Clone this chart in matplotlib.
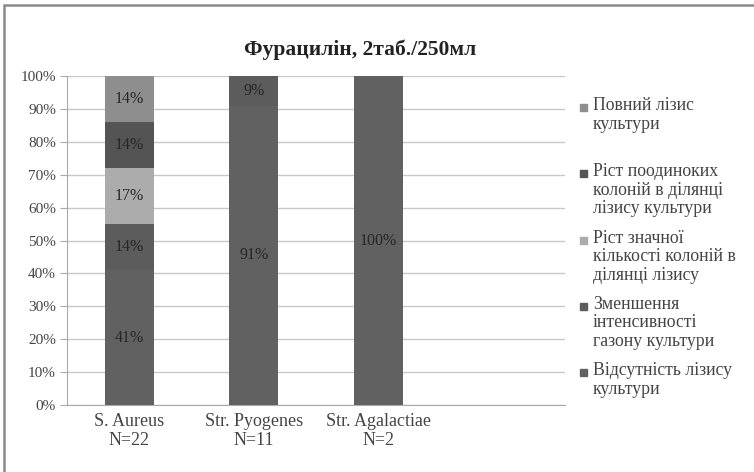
import numpy as np
import matplotlib
matplotlib.use("Agg")
import matplotlib.pyplot as plt
from matplotlib.patches import Rectangle

plt.rcParams['font.family'] = ['Liberation Serif', 'DejaVu Serif']

# categories and stacked series (bottom -> top), values in %
categories = ["S. Aureus\nN=22", "Str. Pyogenes\nN=11", "Str. Agalactiae\nN=2"]
series_names = [
    "Відсутність лізису\nкультури",
    "Зменшення\nінтенсивності\nгазону культури",
    "Ріст значної\nкількості колоній в\nділянці лізису",
    "Ріст поодиноких\nколоній в ділянці\nлізису культури",
    "Повний лізис\nкультури",
]
values = [
    [41, 91, 100],   # Відсутність лізису
    [14, 9, 0],      # Зменшення інтенсивності
    [17, 0, 0],      # Ріст значної кількості
    [14, 0, 0],      # Ріст поодиноких колоній
    [14, 0, 0],      # Повний лізис
]
colors = ["#616161", "#5c5c5c", "#acacac", "#545454", "#8e8e8e"]

W, H = 754, 472
fig = plt.figure(figsize=(W / 100, H / 100), dpi=100)
ax = fig.add_axes([67 / W, 1 - 405 / H, 498 / W, 329 / H])

x = np.arange(len(categories))
bottom = np.zeros(len(categories))
for name, vals, c in zip(series_names, values, colors):
    vals = np.array(vals, dtype=float)
    ax.bar(x, vals, width=0.39, bottom=bottom, color=c, label=name, zorder=3)
    for xi, v, bt in zip(x, vals, bottom):
        if v > 0:
            ax.text(xi, bt + v / 2, f"{int(v)}%", ha="center", va="center",
                    fontsize=11.5, color="#262626", zorder=4)
    bottom += vals

ax.set_xlim(-0.5, 3.5)
ax.set_ylim(0, 100)
ax.set_yticks(np.arange(0, 101, 10))
ax.set_yticklabels([f"{t}%" for t in range(0, 101, 10)], fontsize=11, color="#444444")
ax.set_xticks(x)
ax.set_xticklabels(categories, fontsize=13, color="#444444", linespacing=1.1)
ax.tick_params(axis="x", length=0, pad=6)
ax.tick_params(axis="y", length=5, color="#aaaaaa", pad=3)
ax.grid(axis="y", color="#c8c8c8", linewidth=1.0, zorder=0)
for s in ["top", "right"]:
    ax.spines[s].set_visible(False)
ax.spines["left"].set_color("#aaaaaa")
ax.spines["bottom"].set_color("#aaaaaa")

fig.text(360 / W, 1 - 50 / H, "Фурацилін, 2таб./250мл", ha="center", va="center",
         fontsize=15.5, fontweight="bold", color="#222222")

# legend, Excel style: top series first, equal spacing, marker at first line
for i, (name, c) in enumerate(zip(series_names[::-1], colors[::-1])):
    y_top = 107 + i * 66.3
    fig.patches.append(Rectangle((580 / W, 1 - (y_top + 4) / H), 7 / W, 7 / H,
                                 transform=fig.transFigure, color=c))
    fig.text(593 / W, 1 - (y_top - 10) / H, name, ha="left", va="top",
             fontsize=12.8, color="#444444", linespacing=1.12)

# outer chart border
fig.patches.append(Rectangle((4 / W, -0.05), 1.2, 1.05 - 5 / H, transform=fig.transFigure,
                             fill=False, edgecolor="#8a8a8a", linewidth=1.8))

fig.savefig("out.png", dpi=100)
